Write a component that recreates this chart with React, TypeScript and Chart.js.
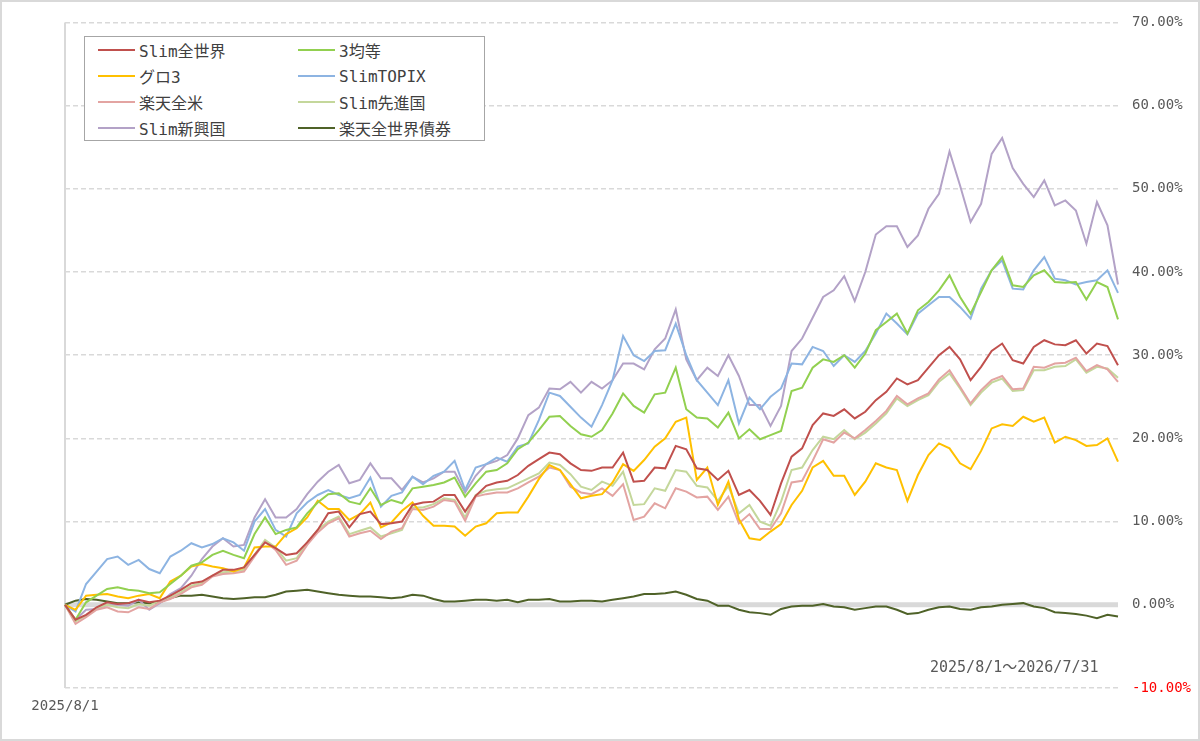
import { useEffect, useRef } from "react"
import Chart from "chart.js/auto"

// ~101 samples across 2025/8/1 - 2026/7/31, cumulative return in %
const START = new Date(2025, 7, 1)
const END = new Date(2026, 6, 31)
const POINTS = 101

const slimAll = [
  0, -1.8, -1.2, -0.3, 0.3, 0.1, 0.2, 0.6, 0.3, 0.5, 1.1, 1.8, 2.6, 2.8, 3.5, 4.2, 4.2, 4.5, 6.0, 7.5, 6.8, 6.0, 6.2, 7.5, 9.0, 11.0, 11.2,
  9.3, 10.9, 11.2, 9.7, 9.8, 10.0, 12.0, 12.3, 12.4, 13.2, 13.2, 11.2, 13.1, 14.3, 14.7, 14.9, 15.6, 16.7, 17.5, 18.3, 18.1, 17.0, 16.2, 16.1, 16.5,
  16.5, 18.3, 14.8, 14.9, 16.5, 16.4, 19.1, 18.7, 16.4, 16.2, 15.0, 16.1, 13.2, 13.8, 12.5, 10.8, 14.6, 17.8, 18.8, 21.6, 23.0, 22.7, 23.5, 22.4,
  23.2, 24.6, 25.6, 27.2, 26.5, 27.0, 28.5, 30.0, 31.0, 29.5, 27.0, 28.6, 30.5, 31.4, 29.4, 29.0, 31.0, 31.8, 31.3, 31.2, 31.8, 30.2, 31.4, 31.1, 28.8,
]
const equal3 = [
  0, -1.8, 0.3, 1.1, 1.9, 2.1, 1.8, 1.7, 1.4, 1.5, 2.5, 3.5, 4.7, 5.1, 6.0, 6.5, 6.0, 5.6, 8.5, 10.5, 8.5, 9.0, 9.3, 11.0, 12.3, 13.3, 13.4,
  12.4, 12.1, 14.0, 12.0, 12.6, 12.2, 14.0, 14.2, 14.4, 14.7, 15.3, 13.0, 14.6, 16.0, 16.2, 17.0, 18.7, 19.5, 21.0, 22.6, 22.7, 21.5, 20.5, 20.2, 21.0,
  23.0, 25.4, 23.9, 23.1, 25.3, 25.5, 28.5, 23.5, 22.5, 22.4, 21.3, 23.1, 20.0, 21.1, 19.9, 20.4, 20.9, 25.7, 26.1, 28.5, 29.5, 29.2, 30.0, 28.5,
  30.2, 33.0, 34.0, 35.0, 32.6, 35.4, 36.4, 37.8, 39.6, 37.0, 35.0, 37.6, 40.2, 41.8, 38.4, 38.2, 39.6, 40.2, 38.8, 38.7, 38.8, 36.7, 38.8, 38.2, 34.3,
]
const glo3 = [
  0, -0.6, 1.1, 1.2, 1.3, 1.0, 0.8, 1.1, 1.3, 0.8, 2.8, 3.5, 4.6, 4.9, 4.6, 4.4, 4.0, 4.5, 6.9, 7.0, 7.0, 8.5, 9.2, 10.5, 12.5, 11.5, 11.5,
  10.2, 10.9, 12.3, 9.3, 9.9, 11.3, 12.3, 10.7, 9.5, 9.5, 9.4, 8.3, 9.4, 9.8, 11.0, 11.1, 11.1, 13.0, 15.1, 16.8, 16.2, 14.5, 12.8, 13.1, 13.3,
  14.7, 16.9, 16.1, 17.4, 19.0, 20.0, 22.0, 22.5, 15.0, 16.5, 12.0, 14.8, 10.3, 8.0, 7.8, 8.8, 9.7, 12.0, 13.7, 16.5, 17.3, 15.5, 15.5, 13.2,
  14.8, 17.0, 16.5, 16.2, 12.5, 15.6, 18.0, 19.4, 18.8, 17.0, 16.3, 18.5, 21.2, 21.7, 21.5, 22.6, 22.0, 22.5, 19.5, 20.2, 19.8, 19.1, 19.2, 20.0, 17.2,
]
const slimTopix = [
  0, -0.8, 2.5, 4.0, 5.5, 5.8, 4.8, 5.4, 4.3, 3.8, 5.8, 6.5, 7.4, 6.9, 7.3, 8.0, 7.5, 6.5, 10.0, 11.5, 9.0, 8.2, 11.0, 12.3, 13.2, 13.8, 13.2,
  12.8, 13.2, 15.3, 11.8, 13.1, 13.5, 15.4, 14.5, 15.5, 16.0, 17.3, 13.8, 16.5, 16.9, 17.7, 17.2, 19.0, 19.4, 22.2, 25.5, 25.1, 23.8, 22.5, 21.4, 24.0,
  27.0, 32.3, 30.0, 29.3, 30.5, 30.6, 33.8, 30.0, 27.0, 25.5, 24.0, 27.0, 21.8, 24.9, 23.5, 25.0, 26.0, 29.0, 28.9, 31.0, 30.5, 28.7, 30.0, 29.2,
  30.5, 32.6, 35.0, 33.8, 32.5, 35.0, 36.0, 37.0, 37.0, 35.8, 34.4, 38.0, 40.2, 41.4, 38.0, 37.9, 40.2, 41.8, 39.2, 39.0, 38.5, 38.8, 39.0, 40.2, 37.5,
]
const rakutenUS = [
  0, -2.3, -1.5, -0.6, -0.3, -0.8, -0.9, -0.3, -0.5, 0.3, 0.7, 1.3, 2.1, 2.4, 3.4, 3.7, 3.8, 4.0, 5.8, 7.6, 6.6, 4.8, 5.3, 7.2, 8.7, 9.8, 10.4,
  8.2, 8.6, 8.9, 7.9, 8.8, 9.2, 11.5, 11.4, 11.8, 12.6, 12.4, 10.1, 13.0, 13.3, 13.5, 13.5, 14.0, 14.7, 15.4, 16.5, 16.2, 14.2, 13.5, 13.3, 14.0,
  13.1, 14.5, 10.2, 10.6, 12.2, 11.6, 14.0, 13.6, 12.9, 13.0, 11.4, 13.0, 9.8, 10.9, 9.1, 9.1, 11.0, 14.7, 14.9, 17.3, 19.9, 19.5, 20.7, 20.0,
  21.0, 22.1, 23.3, 25.1, 24.1, 24.8, 25.4, 27.1, 28.2, 26.2, 24.2, 25.8, 27.0, 27.5, 25.9, 26.0, 28.6, 28.5, 29.0, 29.1, 29.7, 28.1, 28.8, 28.3, 26.8,
]
const slimDeveloped = [
  0, -2.0, -1.3, -0.4, 0.0, -0.3, -0.4, 0.1, -0.1, 0.5, 0.9, 1.5, 2.3, 2.6, 3.5, 3.9, 4.0, 4.2, 6.0, 7.8, 6.9, 5.3, 5.6, 7.5, 9.0, 10.0, 10.6,
  8.5, 8.9, 9.3, 8.2, 8.6, 9.0, 11.7, 11.7, 12.1, 12.8, 12.6, 10.5, 13.2, 13.7, 13.9, 14.0, 14.6, 15.2, 15.8, 17.1, 16.8, 15.7, 14.2, 13.8, 14.8,
  14.3, 16.0, 12.0, 12.1, 14.0, 13.7, 16.2, 16.0, 14.3, 14.1, 12.5, 14.3, 11.0, 12.0, 10.0, 9.5, 12.4, 16.2, 16.5, 18.6, 20.2, 19.9, 21.0, 19.9,
  20.7, 21.8, 23.0, 24.8, 23.9, 24.6, 25.2, 26.8, 27.8, 26.0, 24.0, 25.5, 26.7, 27.2, 25.7, 25.8, 28.2, 28.2, 28.6, 28.7, 29.5, 27.9, 28.6, 28.4, 27.3,
]
const slimEmerging = [
  0, -1.8, -0.6, -0.5, 0.0, 0.0, -0.1, 0.6, -0.6, 0.2, 1.3, 2.0, 3.5, 5.5, 7.0, 8.0, 7.0, 7.2, 10.5, 12.7, 10.5, 10.5, 11.5, 13.3, 14.8, 16.0, 16.8,
  14.6, 15.0, 17.0, 15.2, 15.2, 13.8, 15.4, 14.7, 15.2, 16.0, 16.0, 13.5, 15.5, 16.9, 17.3, 18.0, 20.0, 22.8, 23.7, 26.0, 25.9, 26.8, 25.5, 26.8, 26.0,
  27.0, 29.0, 29.0, 28.3, 30.7, 32.0, 35.5, 29.5, 27.0, 28.5, 27.5, 30.0, 27.5, 24.0, 24.0, 21.5, 23.9, 30.5, 32.0, 34.5, 37.0, 37.8, 39.5, 36.5,
  40.0, 44.5, 45.5, 45.5, 43.0, 44.4, 47.6, 49.4, 54.5, 50.4, 46.0, 48.2, 54.2, 56.1, 52.5, 50.6, 49.0, 51.0, 48.0, 48.6, 47.4, 43.4, 48.4, 45.6, 38.5,
]
const rakutenBond = [
  0, 0.5, 0.7, 0.6, 0.4, 0.2, 0.2, 0.3, 0.2, 0.3, 0.8, 1.1, 1.1, 1.2, 1.0, 0.8, 0.7, 0.8, 0.9, 0.9, 1.2, 1.6, 1.7, 1.8, 1.6, 1.4, 1.2,
  1.1, 1.0, 1.0, 0.9, 0.8, 0.9, 1.2, 1.1, 0.7, 0.4, 0.4, 0.5, 0.6, 0.6, 0.5, 0.6, 0.3, 0.6, 0.6, 0.7, 0.4, 0.4, 0.5, 0.5, 0.4,
  0.6, 0.8, 1.0, 1.3, 1.3, 1.4, 1.6, 1.2, 0.7, 0.5, -0.1, -0.1, -0.6, -0.9, -1.0, -1.2, -0.5, -0.2, -0.1, -0.1, 0.1, -0.2, -0.3, -0.6,
  -0.4, -0.2, -0.2, -0.6, -1.1, -1.0, -0.6, -0.3, -0.2, -0.5, -0.6, -0.3, -0.2, 0.0, 0.1, 0.2, -0.2, -0.4, -0.9, -1.0, -1.1, -1.3, -1.6, -1.2, -1.4,
]

const seriesNames = ["Slim全世界", "3均等", "グロ3", "SlimTOPIX", "楽天全米", "Slim先進国", "Slim新興国", "楽天全世界債券"]
const seriesColors = ["#c0504d", "#92d050", "#ffc000", "#8db4e2", "#e3a4a2", "#c4d79b", "#b3a2c7", "#4f6228"]
const seriesValues = [slimAll, equal3, glo3, slimTopix, rakutenUS, slimDeveloped, slimEmerging, rakutenBond]

const yTicks = { min: -10, max: 70, step: 10 }

const MONO = '"DejaVu Sans Mono", "Noto Sans CJK JP", monospace'

function fmt(d: Date) {
  return `${d.getFullYear()}/${d.getMonth() + 1}/${d.getDate()}`
}

const dayMs = 86400000
const spanDays = Math.round((END.getTime() - START.getTime()) / dayMs)
const dates = Array.from({ length: POINTS }, (_, i) =>
  fmt(new Date(START.getTime() + Math.round((i * spanDays) / (POINTS - 1)) * dayMs))
)

const zeroLine = {
  id: "zeroLine",
  beforeDatasetsDraw(chart: any) {
    const { ctx, chartArea, scales } = chart
    const y = scales.y.getPixelForValue(0)
    ctx.save()
    ctx.strokeStyle = "#d9d9d9"
    ctx.lineWidth = 5
    ctx.beginPath()
    ctx.moveTo(chartArea.left, y)
    ctx.lineTo(chartArea.right, y)
    ctx.stroke()
    ctx.restore()
  },
}

export default function App() {
  const chartRef = useRef<HTMLCanvasElement>(null)
  const chartInstance = useRef<Chart | null>(null)

  useEffect(() => {
    if (!chartRef.current) return
    if (chartInstance.current) chartInstance.current.destroy()

    const ctx = chartRef.current.getContext("2d")
    if (!ctx) return

    chartInstance.current = new Chart(ctx, {
      type: "line",
      data: {
        labels: dates,
        datasets: seriesNames.map((name, i) => ({
          label: name,
          data: seriesValues[i],
          borderColor: seriesColors[i],
          backgroundColor: seriesColors[i],
          borderWidth: 2,
          pointRadius: 0,
          tension: 0,
          fill: false,
        })),
      },
      options: {
        animation: false,
        responsive: true,
        maintainAspectRatio: false,
        layout: { padding: { left: 65, top: 22, right: 0, bottom: 0 } },
        plugins: {
          legend: { display: false },
          tooltip: { enabled: false },
        },
        scales: {
          x: {
            offset: false,
            border: { display: false },
            grid: {
              drawTicks: false,
              lineWidth: 2,
              color: (c: any) => (c.index === 0 ? "#d9d9d9" : "rgba(0,0,0,0)"),
            },
            ticks: {
              autoSkip: false,
              maxRotation: 0,
              padding: 10,
              color: "#595959",
              font: { family: MONO, size: 14 },
              callback: function (this: any, v: any, i: number) {
                return i === 0 ? this.getLabelForValue(v) : ""
              },
            },
            afterFit: (s: any) => {
              s.height = 53
            },
          },
          y: {
            position: "right",
            min: yTicks.min,
            max: yTicks.max,
            border: { display: false, dash: [5, 3] },
            grid: { color: "#d9d9d9", lineWidth: 1.5, drawTicks: false },
            ticks: {
              stepSize: yTicks.step,
              padding: 14,
              color: (c: any) => (c.tick && c.tick.value < 0 ? "#ff0000" : "#595959"),
              font: { family: MONO, size: 14 },
              callback: (v: any) => `${Number(v).toFixed(2)}%`,
            },
            afterFit: (s: any) => {
              s.width = 82
            },
          },
        },
      },
      plugins: [zeroLine],
    })

    return () => {
      if (chartInstance.current) {
        chartInstance.current.destroy()
        chartInstance.current = null
      }
    }
  }, [])

  return (
    <div style={{ position: "relative", width: 1200, height: 741, background: "#fff" }}>
      <style>{`body{margin:0}`}</style>
      <canvas ref={chartRef} />
      <div
        style={{
          position: "absolute",
          left: 84,
          top: 36,
          width: 401,
          height: 105,
          boxSizing: "border-box",
          border: "1.5px solid #a6a6a6",
          background: "#fff",
          display: "grid",
          gridTemplateColumns: "200px 200px",
          gridAutoRows: "26px",
          fontFamily: MONO,
          fontSize: 16,
          color: "#404040",
        }}
      >
        {seriesNames.map((name, i) => (
          <div key={name} style={{ display: "flex", alignItems: "center", paddingLeft: 13 }}>
            <span style={{ display: "inline-block", width: 37, height: 2, background: seriesColors[i], marginRight: 4 }} />
            <span style={{ whiteSpace: "nowrap" }}>{name}</span>
          </div>
        ))}
      </div>
      <div
        style={{
          position: "absolute",
          left: 930,
          top: 657,
          lineHeight: "20px",
          fontFamily: MONO,
          fontSize: 15,
          color: "#595959",
          whiteSpace: "nowrap",
        }}
      >
        2025/8/1〜2026/7/31
      </div>
      <div
        style={{
          position: "absolute",
          inset: 0,
          border: "2px solid #d9d9d9",
          pointerEvents: "none",
        }}
      />
    </div>
  )
}
